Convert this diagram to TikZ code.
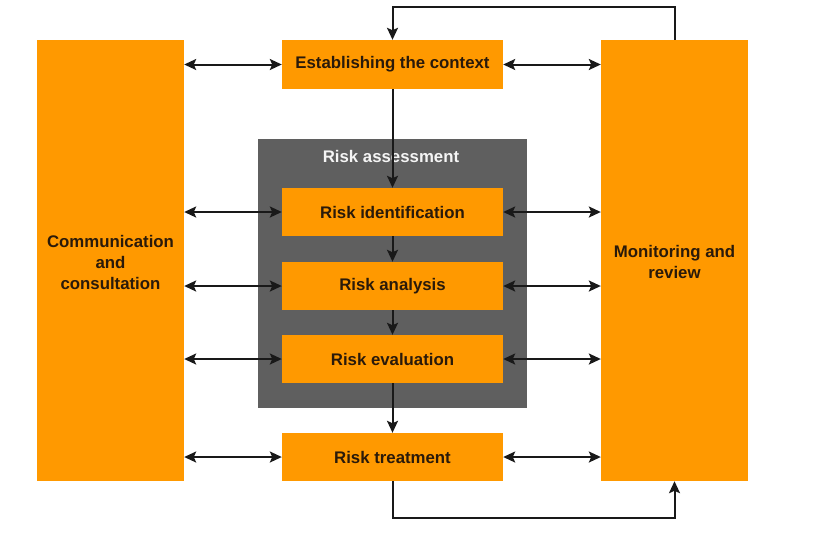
\documentclass[tikz,border=0pt]{standalone}
\usepackage{fontspec}
\setmainfont{Liberation Sans}
\usetikzlibrary{arrows.meta}
\definecolor{orng}{HTML}{FF9900}
\definecolor{grybox}{HTML}{5F5F5F}
\definecolor{txt}{HTML}{2A1A0A}
\begin{document}
\begin{tikzpicture}[x=1pt,y=-1pt,
  box/.style={fill=orng,draw=none,inner sep=0pt,minimum width=221pt,minimum height=48pt,
    font=\fontsize{16.8}{21}\selectfont\bfseries,text=txt,align=center},
  side/.style={fill=orng,draw=none,inner sep=0pt,minimum width=147pt,minimum height=441pt},
  lbl/.style={font=\fontsize{16.8}{21}\selectfont\bfseries,text=txt,align=center},
  conn/.style={line width=2pt,black!90},
  tip/.style={-{Stealth[length=12pt,width=11pt,inset=2.5pt]}},
  dtip/.style={{Stealth[length=12pt,width=11pt,inset=2.5pt]}-{Stealth[length=12pt,width=11pt,inset=2.5pt]}}]
\useasboundingbox (0,0) rectangle (829,539);
\fill[white] (0,0) rectangle (829,539);
\node[side] (left) at (110.5,260.5) {};
\node[side] (right) at (674.5,260.5) {};
\node[lbl] (ltxt) at (110.5,262) {Communication\\and\\consultation};
\node[lbl] (rtxt) at (674.5,262) {Monitoring and\\review};
\node[fill=grybox,inner sep=0pt,minimum width=269pt,minimum height=269pt] (ra) at (392.5,273.5) {};
\node[lbl,text=white!92!gray] (ralbl) at (391,156) {Risk assessment};
\node[box,minimum height=49pt] (ctx) at (392.5,64.5) {Establishing the context};
\node[box] (rid) at (392.5,212) {Risk identification};
\node[box] (ran) at (392.5,286) {Risk analysis};
\node[box] (rev) at (392.5,359) {Risk evaluation};
\node[box] (rtr) at (392.5,457) {Risk treatment};
\foreach \n in {ctx,rid,ran,rev,rtr}{
  \draw[conn,dtip] (\n.west -| left.east) -- (\n.west);
  \draw[conn,dtip] (\n.east) -- (\n.east -| right.west);
}
\draw[conn,tip] (ctx.south) -- (rid.north);
\draw[conn,tip] (rid.south) -- (ran.north);
\draw[conn,tip] (ran.south) -- (rev.north);
\draw[conn,tip] (rev.south) -- (rtr.north);
\draw[conn,tip] (right.north) -- ++(0,-33) -| (ctx.north);
\draw[conn,tip] (rtr.south) -- ++(0,37) -| (right.south);
\end{tikzpicture}
\end{document}
